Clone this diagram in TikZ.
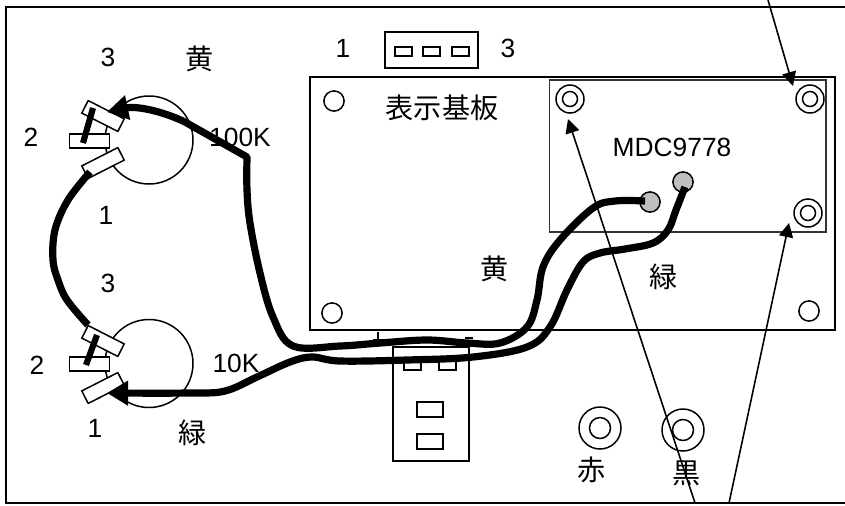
\documentclass[tikz,border=0pt]{standalone}
\usepackage{fontspec}
\setmainfont{Liberation Sans}
\newfontfamily\cjk{Noto Sans CJK JP}
\usetikzlibrary{arrows.meta}

\tikzset{
  wire/.style={line width=4.1pt, line join=round},
  wirehead/.style={-{Triangle[length=12pt, width=13.5pt]}},
  pointer/.style={line width=0.9pt, -{Triangle[length=8pt, width=8pt]}},
  hole/.style={circle, draw, line width=0.85pt, minimum size=11.5pt, inner sep=0pt},
  solder/.style={hole, fill=black!25},
  pin/.style={draw, fill=white, line width=0.85pt, minimum width=23pt, minimum height=8pt, inner sep=0pt},
  slot/.style={draw, line width=0.85pt, inner sep=0pt},
  lbl/.style={font=\fontsize{15}{15}\selectfont},
  jlbl/.style={font=\fontsize{16}{16}\selectfont\cjk},
}

\begin{document}
\begin{tikzpicture}[x=0.02cm, y=-0.02cm]
  \useasboundingbox (0, 0) rectangle (845, 505);

  % frame, open on the right
  \draw[line width=1pt] (845, 7) -- (6, 7) -- (6, 503) -- (845, 503);

  % display board
  \draw[line width=1pt] (310, 77) rectangle (835, 330);
  \node[hole] (holeA) at (334, 101) {};
  \node[hole] (holeB) at (332, 313) {};
  \node[hole] (holeC) at (809, 311) {};
  \node[jlbl] (boardname) at (442, 108) {表示基板};

  % module
  \draw[line width=1.1pt, black!80] (549.5, 80) rectangle (826, 232);
  \coordinate (ringA) at (570, 99);
  \coordinate (ringB) at (810, 99);
  \coordinate (ringC) at (808, 213);
  \coordinate (ringD) at (600, 428);
  \coordinate (ringE) at (683, 430);
  \foreach \name in {ringA, ringB, ringC} {
    \draw[line width=0.85pt] (\name) circle [radius=14];
    \draw[line width=0.85pt] (\name) circle [radius=7.5];
  }
  \foreach \name in {ringD, ringE} {
    \draw[line width=0.85pt] (\name) circle [radius=21];
    \draw[line width=0.85pt] (\name) circle [radius=10.5];
  }
  \node[lbl] (modname) at (672, 147) {MDC9778};
  \node[solder] (dotA) at (650, 202) {};
  \node[solder] (dotB) at (683, 182) {};
  \coordinate (endA) at (645, 201);
  \coordinate (endB) at (685, 187);

  % top connector
  \draw[line width=1.1pt] (385, 32) rectangle (478, 68);
  \draw[slot] (395, 47) rectangle (412, 56);
  \draw[slot] (423, 47) rectangle (440, 56);
  \draw[slot] (452, 47) rectangle (469, 56);

  % bottom connector
  \draw[line width=1pt] (393, 347) rectangle (469, 461);
  \draw[slot] (404, 358) rectangle (421, 370);
  \draw[slot] (439, 358) rectangle (456, 370);
  \draw[slot] (417, 402) rectangle (443, 417);
  \draw[slot] (417, 434) rectangle (443, 449);
  \draw[line width=0.85pt] (378, 332) -- (378, 340);
  \draw[line width=1.5pt] (373, 340) -- (385, 340);
  \draw[line width=1.5pt] (465, 338) -- (473, 338);

  % pots
  \draw[line width=0.85pt] (149, 140) circle [radius=44];
  \draw[line width=0.85pt] (149, 363.5) circle [radius=44];
  \node[pin, rotate=-27] (upperC) at (103, 116) {};
  \node[pin] (upperB) at (89.5, 141) {};
  \node[pin, rotate=27] (upperA) at (103, 163) {};
  \node[pin, rotate=-27] (lowerC) at (103, 341) {};
  \node[pin] (lowerB) at (89.5, 364) {};
  \node[pin, rotate=27] (lowerA) at (103, 388) {};
  \draw[line width=3.5pt] (93, 108) -- (83, 143);
  \draw[line width=3.5pt] (97, 335) -- (86, 365);

  % wires
  \draw[wire, wirehead] plot[smooth, tension=0.6] coordinates {(endA) (615, 201) (593, 208) (560, 240) (543, 267) (537, 300) (527, 327) (500, 343) (467, 343) (427, 340) (380, 343) (340, 346) (293, 346) (273, 317) (260, 273) (250, 223) (247, 190) (247, 157)} -- (185, 122) .. controls (160, 110) and (135, 106) .. (107, 112);
  \draw[wire, wirehead] plot[smooth, tension=0.6] coordinates {(endB) (676, 210) (668, 230) (653, 243) (625, 249) (600, 253) (583, 262) (567, 290) (550, 327) (527, 347) (473, 357) (407, 360) (340, 361) (312, 357) (290, 362) (257, 377) (225, 391) (190, 393) (107, 393)};
  \draw[wire] plot[smooth, tension=0.6] coordinates {(90, 172) (68, 200) (55, 230) (53, 260) (58, 280) (67, 300) (88, 325)};

  % pointers
  \coordinate (pointerA) at (768, 0);
  \coordinate (pointerB) at (695, 503);
  \coordinate (pointerC) at (729, 503);
  \draw[pointer] (pointerA) -- (793, 86);
  \draw[pointer] (pointerB) -- (568, 119);
  \draw[pointer] (pointerC) -- (789, 223);

  % labels
  \node[lbl] (topone) at (343, 48) {1};
  \node[lbl] (topthree) at (508, 48) {3};
  \node[lbl] (upperthree) at (108, 57) {3};
  \node[jlbl] (upperyellow) at (200, 59) {黄};
  \node[lbl] (uppertwo) at (31, 137) {2};
  \node[lbl] (upperone) at (106, 215) {1};
  \node[lbl] (upperval) at (240, 137) {100K};
  \node[lbl] (lowerthree) at (108, 283) {3};
  \node[lbl] (lowertwo) at (37, 365) {2};
  \node[lbl] (lowerone) at (95, 428) {1};
  \node[lbl] (lowerval) at (236, 363) {10K};
  \node[jlbl] (lowergreen) at (193, 433) {緑};
  \node[jlbl] (midyellow) at (495, 269) {黄};
  \node[jlbl] (midgreen) at (664, 277) {緑};
  \node[jlbl] (redname) at (592, 470) {赤};
  \node[jlbl] (blackname) at (687, 473) {黒};
\end{tikzpicture}
\end{document}
